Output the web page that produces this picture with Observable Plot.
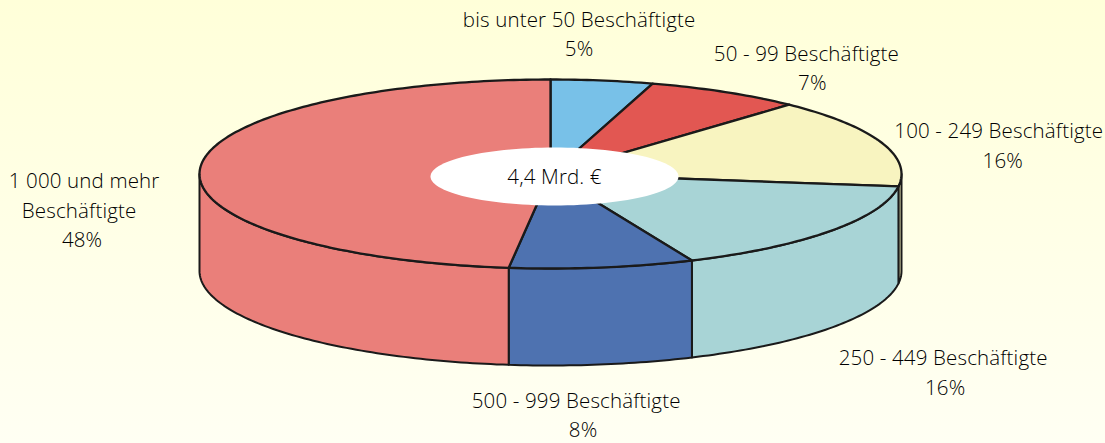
<!DOCTYPE html>
<html><head><meta charset="utf-8">
<script src="https://cdn.jsdelivr.net/npm/d3@7"></script>
<script src="https://cdn.jsdelivr.net/npm/@observablehq/plot@0.6"></script>
<style>
html,body{margin:0;padding:0;width:1105px;height:443px;overflow:hidden;background:linear-gradient(#FFFFD9,#FFFFF3);}
svg{display:block}
svg text{letter-spacing:.15px}
</style></head><body>
<script>
// Labels and printed percentages
const categories = [["bis unter 50 Beschäftigte"],["50 - 99 Beschäftigte"],["100 - 249 Beschäftigte"],["250 - 449 Beschäftigte"],["500 - 999 Beschäftigte"],["1 000 und mehr","Beschäftigte"]];
const percents = [5,7,16,16,8,48];
// Slice sizes as drawn in the picture (read from the rim)
const drawnShares = [4.7,7.2,15.2,16.3,8.5,48.1];
const colors = ["#78C1E8","#E25752","#F8F4C0","#A8D4D6","#4E72B0","#EA7F7A"];
const labelDx = [-23,81,118,112,-26,-118];
const labelDy = [-45.5,-23,4.5,142.5,148.5,43];
const nameDx = [[0],[0],[0],[0],[0],[2,-3]];
const percentDx = [0,6,4,2,7,0];
const totalLabel = "4,4 Mrd. €";

// Layout
const W=1105,H=443,cx=550,cy=173.5,rx=351,tilt=94.5/351,depth=97/351,LINE=29.5;
const INK="#000", FONT="'Open Sans', Lato, sans-serif", FS=20.5;
const rad=d=>d*Math.PI/180;
const rim=(deg,drop=0)=>({x:Math.sin(rad(deg)),y:tilt*Math.cos(rad(deg))-drop});
const arc=(a,b,drop=0)=>{const n=Math.max(2,Math.ceil(Math.abs(b-a)));return d3.range(n+1).map(i=>rim(a+(b-a)*i/n,drop));};

let c=0;
const slices=drawnShares.map((s,i)=>{const a=c*3.6;c+=s;return {i,a,b:c*3.6,mid:(a+c*3.6)/2};});

const walls=slices.flatMap(({i,a,b})=>{
  const a0=Math.max(a,90),b0=Math.min(b,270);
  if(b0<=a0) return [];
  const poly=[...arc(a0,b0),...arc(b0,a0,depth)];poly.push(poly[0]);
  return [Plot.line(poly,{x:"x",y:"y",fill:colors[i],stroke:"#1a1a1a",strokeWidth:2})];
});
const tops=slices.map(({i,a,b})=>{
  const poly=[{x:0,y:0},...arc(a,b),{x:0,y:0}];
  return Plot.line(poly,{x:"x",y:"y",fill:colors[i],stroke:"#1a1a1a",strokeWidth:2.3});
});
const hole=d3.range(0,361,3).map(d=>({x:4/351+Math.sin(rad(d))*124/351,y:-2.5/351+Math.cos(rad(d))*29/351}));

const labelMarks=slices.flatMap(({i,mid})=>{
  const lines=[...categories[i],percents[i]+"%"];
  const shifts=[...nameDx[i],percentDx[i]];
  return lines.map((t,j)=>Plot.text([{...rim(mid),t}],{x:"x",y:"y",text:"t",
    dx:labelDx[i]+shifts[j],dy:labelDy[i]+(j-(lines.length-1)/2)*LINE,
    fill:INK,fontSize:FS,fontFamily:FONT,fontWeight:300,textAnchor:"middle"}));
});

const chart=Plot.plot({
  width:W,height:H,margin:0,
  style:{background:"transparent"},
  x:{axis:null,domain:[-cx/rx,(W-cx)/rx],range:[0,W]},
  y:{axis:null,domain:[cy/rx,(cy-H)/rx],range:[0,H]},
  marks:[
    ...walls,
    ...tops,
    Plot.line(hole,{x:"x",y:"y",fill:"white",stroke:"none"}),
    Plot.text([{x:4/351,y:-2.5/351}],{x:"x",y:"y",text:()=>totalLabel,dy:1,fill:INK,fontSize:FS,fontFamily:FONT,fontWeight:300}),
    ...labelMarks
  ]
});
document.body.appendChild(chart);
</script></body></html>
